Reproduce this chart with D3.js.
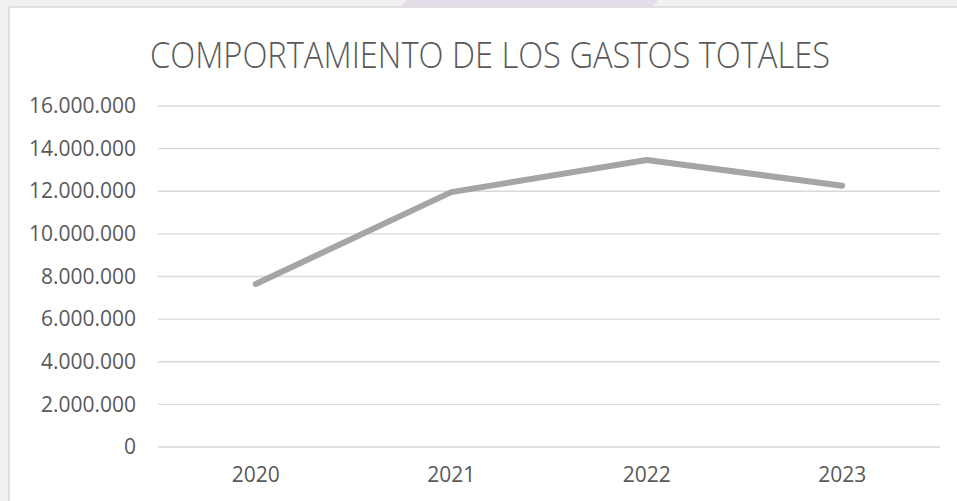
<!DOCTYPE html>
<html>
<head>
<meta charset="utf-8">
<script src="https://cdn.jsdelivr.net/npm/d3@7"></script>
<style>
  html, body { margin: 0; padding: 0; background: #f1f0f3; }
  svg { display: block; }
</style>
</head>
<body>
<div id="chart"></div>
<script>
// Chart data
const years = ["2020", "2021", "2022", "2023"];
const gastos = [7650000, 11960000, 13470000, 12260000];
const yTicks = [0, 2000000, 4000000, 6000000, 8000000, 10000000, 12000000, 14000000, 16000000];
const title = "COMPORTAMIENTO DE LOS GASTOS TOTALES";

const width = 957;
const height = 501;

const svg = d3.select("#chart")
  .append("svg")
  .attr("width", width)
  .attr("height", height);

// page background behind the chart box
svg.append("rect")
  .attr("width", width)
  .attr("height", height)
  .attr("fill", "#f1f0f3");

// faint watermark band peeking above the chart
svg.append("polygon")
  .attr("points", "407,0 658,0 652,8 399,8")
  .attr("fill", "#e4dde9");

// chart box
svg.append("rect")
  .attr("x", 9)
  .attr("y", 7)
  .attr("width", 960)
  .attr("height", 510)
  .attr("fill", "#ffffff")
  .attr("stroke", "#d9d9d9")
  .attr("stroke-width", 1.5);

// Scales
const x = d3.scaleBand()
  .domain(years)
  .range([158, 940]);

const y = d3.scaleLinear()
  .domain([0, 16000000])
  .range([447, 106]);

// format with dots as thousands separator
const fmt = d3.formatLocale({ decimal: ",", thousands: ".", grouping: [3], currency: ["", ""] }).format(",d");

// Gridlines
svg.append("g")
  .selectAll("line")
  .data(yTicks)
  .enter()
  .append("line")
  .attr("x1", 158)
  .attr("x2", 940)
  .attr("y1", d => y(d))
  .attr("y2", d => y(d))
  .attr("stroke", "#d9d9d9")
  .attr("stroke-width", 1.3);

// Y axis labels
const yAxis = svg.append("g")
  .attr("transform", "translate(136,0)")
  .call(d3.axisLeft(y).tickValues(yTicks).tickFormat(fmt).tickSize(0).tickPadding(0));
yAxis.select(".domain").remove();
yAxis.selectAll("text")
  .attr("fill", "#595959")
  .style("font-family", "'Open Sans', 'Noto Sans', sans-serif")
  .style("font-size", "21px");

// X axis labels
const xAxis = svg.append("g")
  .attr("transform", "translate(0,467)")
  .call(d3.axisBottom(x).tickSize(0).tickPadding(0));
xAxis.select(".domain").remove();
xAxis.selectAll("text")
  .attr("fill", "#595959")
  .style("font-family", "'Open Sans', 'Noto Sans', sans-serif")
  .style("font-size", "21px");

// Line
const line = d3.line()
  .x((d, i) => x(years[i]) + x.bandwidth() / 2)
  .y(d => y(d));

svg.append("path")
  .datum(gastos)
  .attr("d", line)
  .attr("fill", "none")
  .attr("stroke", "#a5a5a5")
  .attr("stroke-width", 6)
  .attr("stroke-linecap", "round")
  .attr("stroke-linejoin", "round");

// Title
svg.append("text")
  .attr("x", 490)
  .attr("y", 68)
  .attr("text-anchor", "middle")
  .attr("fill", "#595959")
  .attr("textLength", 680)
  .attr("lengthAdjust", "spacingAndGlyphs")
  .style("font-family", "'Open Sans', 'Noto Sans', sans-serif")
  .style("font-weight", "300")
  .style("font-size", "36px")
  .text(title);
</script>
</body>
</html>
